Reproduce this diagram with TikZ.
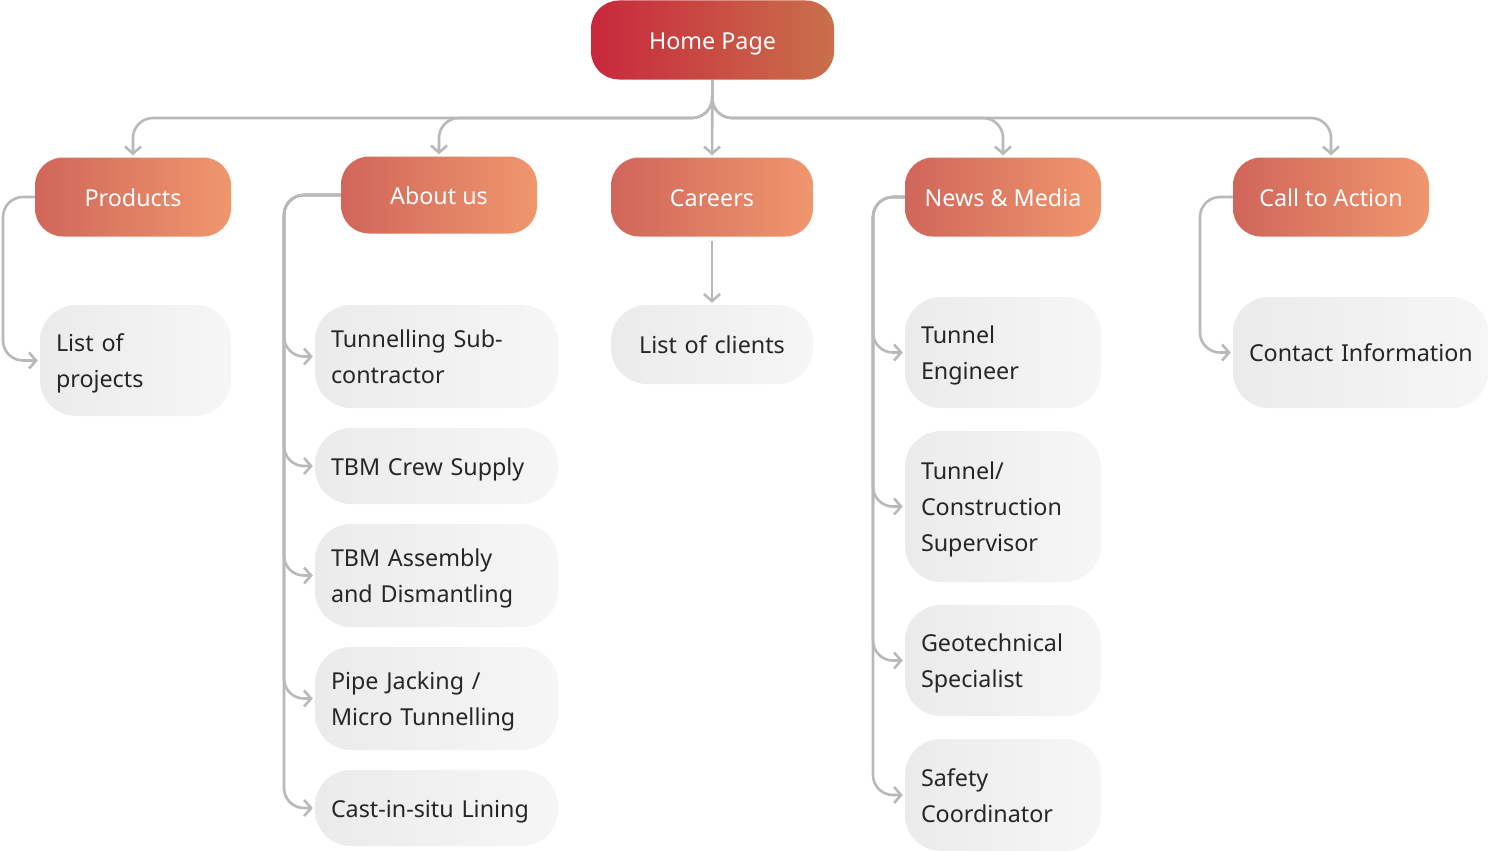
\documentclass[tikz,border=0pt]{standalone}
\usepackage{fontspec}
\setmainfont{Noto Sans}
\usetikzlibrary{arrows.meta}
\definecolor{hl}{HTML}{C8283C}
\definecolor{hr}{HTML}{C9704A}
\definecolor{ol}{HTML}{D0665A}
\definecolor{or}{HTML}{F0976D}
\definecolor{gl}{HTML}{EBEBEC}
\definecolor{gr}{HTML}{F7F6F6}
\definecolor{txt}{HTML}{262626}
\definecolor{lc}{HTML}{B9B9B9}
\newcommand{\lnstrut}{\rule[-9pt]{0pt}{36pt}}
\begin{document}
\begin{tikzpicture}[x=1pt,y=-1pt,
  strutted/.style={execute at begin node=\lnstrut, execute at end node=\lnstrut},
  home/.style={strutted, rounded corners=28pt, left color=hl, right color=hr, draw=none, text=white,
    font=\fontsize{23.3}{36}\selectfont, inner sep=0pt},
  head/.style={strutted, rounded corners=28pt, left color=ol, right color=or, draw=none, text=white,
    font=\fontsize{23.3}{36}\selectfont, inner sep=0pt},
  leaf/.style={strutted, rounded corners=36pt, left color=gl, right color=gr, draw=none, text=txt,
    font=\fontsize{23.3}{36}\selectfont, align=left, inner xsep=16pt, inner ysep=0pt},
  conn/.style={draw=lc, line width=2.6pt, rounded corners=20pt,
    -{Straight Barb[length=7pt,width=16pt]}, shorten >=2pt}
]
\useasboundingbox (0,0) rectangle (1488,851);

% top level
\node[home, minimum width=243pt, minimum height=79pt] (home) at (712.5,40) {Home Page};
\node[head, minimum width=196pt, minimum height=79pt] (prod) at (133,197) {Products};
\node[head, minimum width=196pt, minimum height=77pt] (about) at (439,195) {About us};
\node[head, minimum width=202pt, minimum height=79pt] (car) at (712,197) {Careers};
\node[head, minimum width=196pt, minimum height=79pt] (news) at (1003,197) {News \& Media};
\node[head, minimum width=196pt, minimum height=79pt] (cta) at (1331,197) {Call to Action};

% leaves
\node[leaf, text width=159pt, minimum height=111pt] (lp) at (135.5,360.5) {List of\\projects};
\node[leaf, text width=211pt, minimum height=103pt] (t1) at (436.5,356.5) {Tunnelling Sub-\\contractor};
\node[leaf, text width=211pt, minimum height=76pt] (t2) at (436.5,466) {TBM Crew Supply};
\node[leaf, text width=211pt, minimum height=103pt] (t3) at (436.5,575.5) {TBM Assembly\\and Dismantling};
\node[leaf, text width=211pt, minimum height=103pt] (t4) at (436.5,698.5) {Pipe Jacking /\\Micro Tunnelling};
\node[leaf, text width=211pt, minimum height=76pt] (t5) at (436.5,808) {Cast-in-situ Lining};
\node[leaf, text width=170pt, align=center, minimum height=79pt] (lcl) at (712,344.5) {List of clients};
\node[leaf, text width=164pt, minimum height=111pt] (n1) at (1003,352.5) {Tunnel\\Engineer};
\node[leaf, text width=164pt, minimum height=151pt] (n2) at (1003,506.5) {Tunnel/\\Construction\\Supervisor};
\node[leaf, text width=164pt, minimum height=111pt] (n3) at (1003,660.5) {Geotechnical\\Specialist};
\node[leaf, text width=164pt, minimum height=112pt] (n4) at (1003,795) {Safety\\Coordinator};
\node[leaf, text width=223pt, minimum height=111pt] (ci) at (1360.5,352.5) {\mbox{Contact Information}};

% bus coordinates
\coordinate (hb) at (712,118);
\coordinate (pb) at (3,197);
\coordinate (ab) at (284,195);
\coordinate (nb) at (873,197);
\coordinate (cb) at (1200,197);

% home connectors
\draw[conn, shorten <=1pt] (home.south) -- (hb) -| (prod.north);
\draw[conn, shorten <=1pt] (home.south) -- (hb) -| (about.north);
\draw[conn, shorten <=1pt] (home.south) -- (car.north);
\draw[conn, shorten <=1pt] (home.south) -- (hb) -| (news.north);
\draw[conn, shorten <=1pt] (home.south) -- (hb) -| (cta.north);

% sub connectors
\draw[conn] (prod.west) -- (pb) |- (lp.west);
\foreach \c in {t1,t2,t3,t4,t5} \draw[conn] (about.west) -- (ab) |- (\c.west);
\draw[conn, shorten <=4pt] (car.south) -- (lcl.north);
\foreach \c in {n1,n2,n3,n4} \draw[conn] (news.west) -- (nb) |- (\c.west);
\draw[conn] (cta.west) -- (cb) |- (ci.west);
\end{tikzpicture}
\end{document}
